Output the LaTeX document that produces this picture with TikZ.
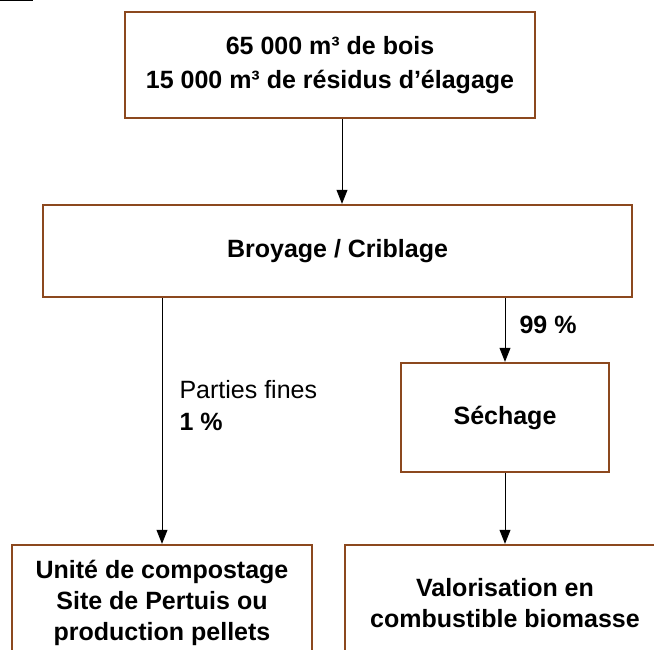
\documentclass[tikz,border=0pt]{standalone}
\usepackage{fontspec}
\setmainfont{Liberation Sans}
\usetikzlibrary{arrows.meta}
\definecolor{boxBrown}{RGB}{140,72,30}

\begin{document}
\begin{tikzpicture}[x=1pt,y=1pt]

            \tikzstyle{stepBox} = [draw=boxBrown, line width=2.4pt, fill=white, align=center, inner sep=0pt, font=\fontsize{25}{31}\selectfont\bfseries];
            \tikzstyle{flow} = [-{Triangle[width=11pt,length=14pt]}, line width=0.9pt];

            \useasboundingbox (0,0) rectangle (654,650);
            \draw[line width=1.2pt] (0,649.5) -- (33,649.5);

            \node[stepBox, minimum width=410, minimum height=106, font=\fontsize{25}{34}\selectfont\bfseries] (wood) at (330,585) {65 000 m³ de bois\\15 000 m³ de résidus d’élagage};
            \node[stepBox, minimum width=589, minimum height=92] (crush) at (337.5,399) {Broyage / Criblage};
            \node[stepBox, minimum width=208, minimum height=109] (dry) at (505,232.5) {Séchage};
            \node[stepBox, minimum width=300, minimum height=116] (compost) at (162,47) {Unité de compostage\\Site de Pertuis ou\\production pellets};
            \node[stepBox, minimum width=320, minimum height=116] (fuel) at (505,47) {Valorisation en\\combustible biomasse};

            \coordinate (mid) at (342,0);
            \coordinate (fine) at (162,0);

            \draw[flow] (mid |- wood.south) -- (mid |- crush.north);
            \draw[flow] (fine |- crush.south) -- (compost.north);
            \draw[flow] (dry.north |- crush.south) -- (dry.north);
            \draw[flow] (dry.south) -- (dry.south |- fuel.north);

            \node[anchor=west, align=left, font=\fontsize{25}{32}\selectfont] (fineLabel) at (176,244) {Parties fines\\\textbf{1 \%}};
            \node[anchor=west, font=\fontsize{25}{30}\selectfont\bfseries] (mainLabel) at (516,325) {99 \%};
          \end{tikzpicture}
\end{document}
